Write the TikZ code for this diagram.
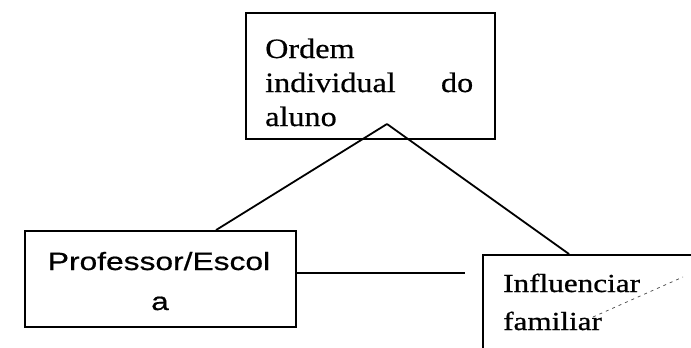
\documentclass[tikz,border=0pt]{standalone}
\usepackage{fontspec}
\newfontfamily\serifA[FakeStretch=1.15, FakeBold=0.6]{Liberation Serif}
\newfontfamily\serifB[FakeStretch=1.2, FakeBold=0.8]{Liberation Serif}
\newfontfamily\sansA[FakeStretch=1.27, FakeBold=0.6]{Liberation Sans}
\usetikzlibrary{calc}
\tikzset{
  box/.style={draw, line width=1.9pt, rectangle, inner sep=0pt},
  link/.style={line width=1.8pt},
  txt/.style={inner sep=0pt, anchor=base west},
}
\begin{document}
\begin{tikzpicture}[x=1pt, y=-1pt]
\useasboundingbox (0,0) rectangle (691,348);
\clip (0,0) rectangle (691,348);
% boxes
\node[box, minimum width=249pt, minimum height=126pt] (ordem) at (370.5,76) {};
\node[box, minimum width=271pt, minimum height=96pt] (prof) at (160.5,279) {};
\node[box, minimum width=300pt, minimum height=150pt] (infl) at (633,330) {};
% texts
\node[txt, font=\serifA\fontsize{28}{34}\selectfont] (t1) at (265,58) {Ordem};
\node[txt, font=\serifA\fontsize{28}{34}\selectfont, text width=208pt, align=left] (t2) at (265,92) {individual\hfill do};
\node[txt, font=\serifA\fontsize{28}{34}\selectfont] (t3) at (265,126) {aluno};
\node[inner sep=0pt, anchor=base, font=\sansA\fontsize{25}{30}\selectfont] (p1) at (159,270) {Professor/Escol};
\node[inner sep=0pt, anchor=base, font=\sansA\fontsize{25}{30}\selectfont] (p2) at (160,310) {a};
\node[txt, font=\serifB\fontsize{26}{32}\selectfont] (i1) at (503,292) {Influenciar};
\node[txt, font=\serifB\fontsize{26}{32}\selectfont] (i2) at (503,330) {familiar};
% connectors
\coordinate (apex) at (387,124);
\coordinate (lineend) at (465,273);
\coordinate (dashA) at (593,317);
\coordinate (dashB) at (683,277);
\draw[link] (apex) -- ([xshift=192pt]prof.north west);
\draw[link] (apex) -- ([xshift=87pt]infl.north west);
\draw[link] (prof.east |- lineend) -- (lineend);
\draw[black!65, dash pattern=on 3pt off 4pt, line width=0.8pt] (dashA) -- (dashB);
\end{tikzpicture}
\end{document}
